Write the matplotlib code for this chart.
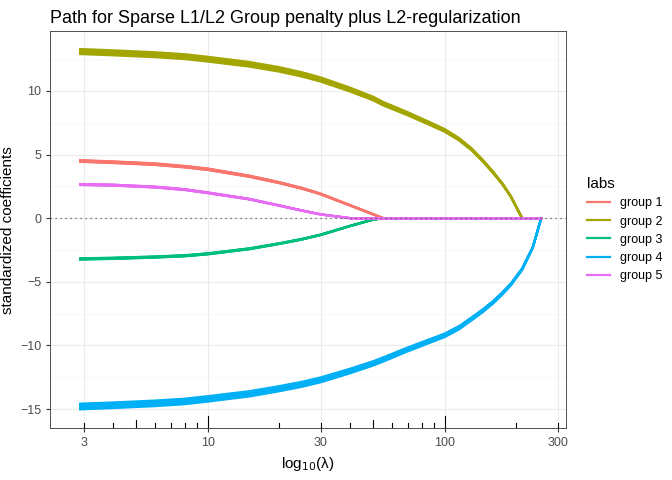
import numpy as np
import matplotlib.pyplot as plt
import matplotlib.transforms as mtransforms

plt.rcParams['font.family'] = ['Liberation Sans', 'DejaVu Sans']

lam = [2.9, 4, 6, 8, 10, 15, 20, 25, 30, 40, 50, 55, 70, 85, 100, 115, 130, 145, 160,
       175, 190, 212, 235, 255]
group1 = [4.5, 4.4, 4.25, 4.05, 3.85, 3.3, 2.8, 2.35, 1.9, 1.0, 0.3, 0,
          0, 0, 0, 0, 0, 0, 0, 0, 0, 0, 0, 0]
group2 = [13.1, 13.0, 12.85, 12.7, 12.5, 12.1, 11.7, 11.3, 10.9, 10.1, 9.4, 9.0,
          8.2, 7.5, 6.9, 6.2, 5.4, 4.5, 3.6, 2.7, 1.7, 0, 0, 0]
group3 = [-3.2, -3.15, -3.05, -2.95, -2.8, -2.4, -2.0, -1.65, -1.3, -0.6, -0.1, 0,
          0, 0, 0, 0, 0, 0, 0, 0, 0, 0, 0, 0]
group4 = [-14.8, -14.7, -14.55, -14.4, -14.2, -13.8, -13.4, -13.05, -12.7, -12.0, -11.4, -11.1,
          -10.3, -9.7, -9.2, -8.6, -7.9, -7.25, -6.6, -5.9, -5.2, -4.0, -2.3, 0]
group5 = [2.65, 2.6, 2.45, 2.25, 2.0, 1.5, 1.0, 0.6, 0.3, 0, 0, 0,
          0, 0, 0, 0, 0, 0, 0, 0, 0, 0, 0, 0]
# per-coefficient spread within each group
spread = [0.985, 0.99, 0.995, 1.0, 1.005, 1.01, 1.015]

groups = [group1, group2, group3, group4, group5]
labels = ['group 1', 'group 2', 'group 3', 'group 4', 'group 5']
colors = ['#F8766D', '#A3A500', '#00BF7D', '#00B0F6', '#E76BF3']

fig, ax = plt.subplots(figsize=(6.72, 4.8), dpi=100)
fig.subplots_adjust(left=0.075, right=0.842, top=0.935, bottom=0.108)

lam_arr = np.array(lam)
for vals, lab, col in zip(groups, labels, colors):
    v = np.array(vals)
    for i, s in enumerate(spread):
        ax.plot(lam_arr, v * s, color=col, lw=1.6, label=lab if i == 0 else None)

ax.axhline(0, color='#555555', ls=(0, (1, 3)), lw=0.9)
ax.set_xscale('log')
ax.set_xlim(2.17, 324)
ax.set_ylim(-16.5, 14.7)
ax.set_xticks([3, 10, 30, 100, 300])
ax.set_xticklabels(['3', '10', '30', '100', '300'])
ax.xaxis.set_minor_locator(plt.NullLocator())
ax.set_yticks([-15, -10, -5, 0, 5, 10])
ax.set_yticks([-12.5, -7.5, -2.5, 2.5, 7.5, 12.5], minor=True)
ax.tick_params(which='minor', length=0)
ax.grid(True, which='major', color='#EBEBEB', lw=0.8)
ax.grid(True, which='minor', color='#F4F4F4', lw=0.5)
ax.set_axisbelow(True)
for sp in ax.spines.values():
    sp.set_color('#333333')
    sp.set_linewidth(0.6)
ax.tick_params(which='major', colors='#333333', labelcolor='#4D4D4D', labelsize=9, length=3)

# log ticks along the bottom
trans = mtransforms.blended_transform_factory(ax.transData, ax.transAxes)
for dec in [1, 10, 100]:
    for m in range(1, 10):
        x = m * dec
        if 2.17 < x < 324:
            h = 0.03 if m == 1 else (0.02 if m == 5 else 0.012)
            ax.plot([x, x], [0, h], color='black', lw=0.8, transform=trans)

ax.set_xlabel(r'log$_{10}$(λ)', fontsize=11)
ax.set_ylabel('standardized coefficients', fontsize=11)
ax.set_title('Path for Sparse L1/L2 Group penalty plus L2-regularization', fontsize=13, loc='left')
leg = ax.legend(title='labs', loc='center left', bbox_to_anchor=(1.02, 0.5), frameon=False,
                fontsize=9, title_fontsize=11, handlelength=1.8)
leg._legend_box.align = 'left'
fig.savefig('out.png')
